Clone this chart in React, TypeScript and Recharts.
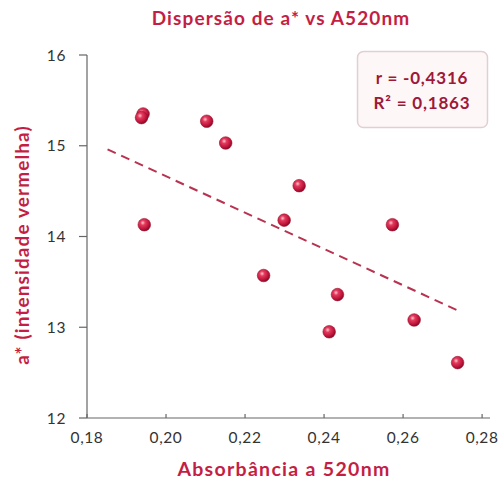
import React from "react";
import { ScatterChart, Scatter, XAxis, YAxis, ReferenceLine } from "recharts";

const absorbance = [0.1942, 0.1938, 0.2103, 0.2151, 0.2337, 0.1945, 0.2299, 0.2573, 0.2247, 0.2434, 0.2413, 0.2628, 0.2738];
const aStar = [15.35, 15.31, 15.27, 15.03, 14.56, 14.13, 14.18, 14.13, 13.57, 13.36, 12.95, 13.08, 12.61];
const xTicks = [0.18, 0.2, 0.22, 0.24, 0.26, 0.28];
const yTicks = [12, 13, 14, 15, 16];
const trendX = [0.1852, 0.2736];
const trendY = [14.96, 13.19];
const statLines = ["r = -0,4316", "R² = 0,1863"];

const points = absorbance.map((x, i) => ({ x, y: aStar[i] }));

const FONT = "Lato, 'Open Sans', sans-serif";
const RED = "#c41e44";

const Sphere = (props: any) => {
  const { cx, cy } = props;
  if (cx == null || cy == null) return null;
  return (
    <g>
      <circle cx={cx} cy={cy} r={6.3} fill="url(#sphereGrad)" stroke="#9c1030" strokeWidth={0.6} />
    </g>
  );
};

const XTick = (props: any) => {
  const { x, y, payload } = props;
  return (
    <g>
      <line x1={x} x2={x} y1={y - 4} y2={y} stroke="#666" strokeWidth={1.2} />
      <text x={x} y={y + 25} textAnchor="middle" fill="#333" fontSize={15.5} letterSpacing={0.6} fontFamily={FONT}>
        {Number(payload.value).toFixed(2).replace(".", ",")}
      </text>
    </g>
  );
};

const YTick = (props: any) => {
  const { x, y, payload } = props;
  return (
    <text x={x} y={y} dy="0.36em" textAnchor="end" fill="#333" fontSize={15.5} letterSpacing={0.6} fontFamily={FONT}>
      {payload.value}
    </text>
  );
};

export default function App() {
  return (
    <div style={{ position: "absolute", left: 0, top: 0, width: 501, height: 485, background: "#fff" }}>
      <svg width={0} height={0} style={{ position: "absolute" }}>
        <defs>
          <radialGradient id="sphereGrad" cx="38%" cy="35%" r="65%">
            <stop offset="0%" stopColor="#ffc4cf" />
            <stop offset="30%" stopColor="#e23a5c" />
            <stop offset="75%" stopColor="#c0143a" />
            <stop offset="100%" stopColor="#8a0a27" />
          </radialGradient>
        </defs>
      </svg>
      <ScatterChart width={501} height={485} margin={{ top: 55, right: 11, bottom: 0, left: 0 }}>
        <XAxis
          type="number"
          dataKey="x"
          domain={[0.18, 0.282]}
          ticks={xTicks}
          allowDataOverflow
          height={67}
          axisLine={{ stroke: "#666", strokeWidth: 1.2 }}
          tickLine={false}
          tickSize={0}
          tickMargin={0}
          tick={<XTick />}
          interval={0}
        />
        <YAxis
          type="number"
          dataKey="y"
          domain={[12, 16]}
          ticks={yTicks}
          width={87}
          axisLine={{ stroke: "#666", strokeWidth: 1.2 }}
          tickLine={{ stroke: "#666", strokeWidth: 1.2 }}
          tickSize={8}
          tickMargin={13}
          tick={<YTick />}
          interval={0}
        />
        <ReferenceLine
          segment={[
            { x: trendX[0], y: trendY[0] },
            { x: trendX[1], y: trendY[1] },
          ]}
          stroke="#b8334f"
          strokeWidth={2}
          strokeDasharray="9 6"
          ifOverflow="visible"
        />
        <Scatter data={points} shape={<Sphere />} isAnimationActive={false} />
      </ScatterChart>
      <svg width={501} height={485} style={{ position: "absolute", left: 0, top: 0, pointerEvents: "none" }}>
        <text x={281} y={25} textAnchor="middle" fill={RED} fontSize={19} letterSpacing={1.1} fontWeight="bold" fontFamily={FONT}>
          Dispersão de a* vs A520nm
        </text>
        <text
          x={0}
          y={0}
          transform="translate(29,245) rotate(-90)"
          textAnchor="middle"
          fill={RED}
          fontSize={19}
          letterSpacing={1.1}
          fontWeight="bold"
          fontFamily={FONT}
        >
          a* (intensidade vermelha)
        </text>
        <text x={284} y={476} textAnchor="middle" fill={RED} fontSize={19.5} letterSpacing={1.3} fontWeight="bold" fontFamily={FONT}>
          Absorbância a 520nm
        </text>
        <rect x={357.5} y={51.5} width={130} height={76} rx={6} fill="#fdf7f8" stroke="#e2cfd2" strokeWidth={1.5} />
        <text x={422} y={84} textAnchor="middle" fill="#9e1838" fontSize={17} letterSpacing={0.8} fontWeight="bold" fontFamily={FONT}>
          {statLines[0]}
        </text>
        <text x={422} y={109} textAnchor="middle" fill="#9e1838" fontSize={17} letterSpacing={0.8} fontWeight="bold" fontFamily={FONT}>
          {statLines[1]}
        </text>
      </svg>
    </div>
  );
}
